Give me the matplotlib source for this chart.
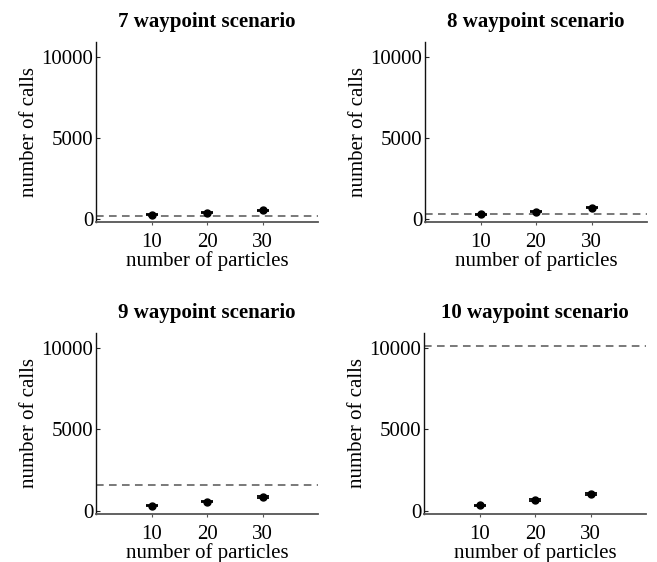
import matplotlib
matplotlib.use("Agg")
import matplotlib.pyplot as plt

plt.rcParams['font.family'] = ['Liberation Serif', 'DejaVu Serif']

# data
particles = [10, 20, 30]
titles = ['7 waypoint scenario', '8 waypoint scenario',
          '9 waypoint scenario', '10 waypoint scenario']
calls_7 = [255, 400, 540]
calls_8 = [295, 460, 700]
calls_9 = [320, 585, 850]
calls_10 = [360, 670, 1020]
err_7 = [30, 30, 35]
err_8 = [30, 35, 40]
err_9 = [35, 40, 45]
err_10 = [40, 50, 60]
baseline = [170, 330, 1590, 10080]  # dashed reference level per scenario

calls = [calls_7, calls_8, calls_9, calls_10]
errs = [err_7, err_8, err_9, err_10]

fig = plt.figure(figsize=(6.57, 5.62), dpi=100)
W, H = 657.0, 562.0
# axes boxes in pixels: left, right, top, bottom
boxes = [(96, 318, 42, 222), (425, 647, 42, 222),
         (96, 318, 333, 514), (424, 646, 333, 514)]

for i in range(4):
    l, r, t, b = boxes[i]
    ax = fig.add_axes([l / W, 1 - b / H, (r - l) / W, (b - t) / H])
    ax.axhline(baseline[i], color='#555555', lw=1.1, ls=(0, (5, 3.5)))
    ax.errorbar(particles, calls[i], yerr=errs[i], fmt='o', color='black',
                ms=5, capsize=4, elinewidth=1, capthick=1.3)
    ax.set_xlim(0, 40)
    ax.set_ylim(-180, 10900)
    ax.set_xticks(particles)
    ax.set_yticks([0, 5000, 10000])
    ax.spines['top'].set_visible(False)
    ax.spines['right'].set_visible(False)
    ax.spines['left'].set_color('#111111')
    ax.spines['left'].set_linewidth(1.0)
    ax.spines['bottom'].set_color('#555555')
    ax.spines['bottom'].set_linewidth(1.3)
    ax.tick_params(axis='y', direction='in', length=3, labelsize=15, pad=2,
                   color='#222222')
    ax.tick_params(axis='x', direction='out', length=2, labelsize=15, pad=6,
                   color='#555555')
    ax.set_xlabel('number of particles', fontsize=15, labelpad=-1)
    ax.set_ylabel('number of calls', fontsize=15, labelpad=2)
    ax.set_title(titles[i], fontsize=15, fontweight='bold', pad=11)

fig.savefig('out.png', dpi=100)
